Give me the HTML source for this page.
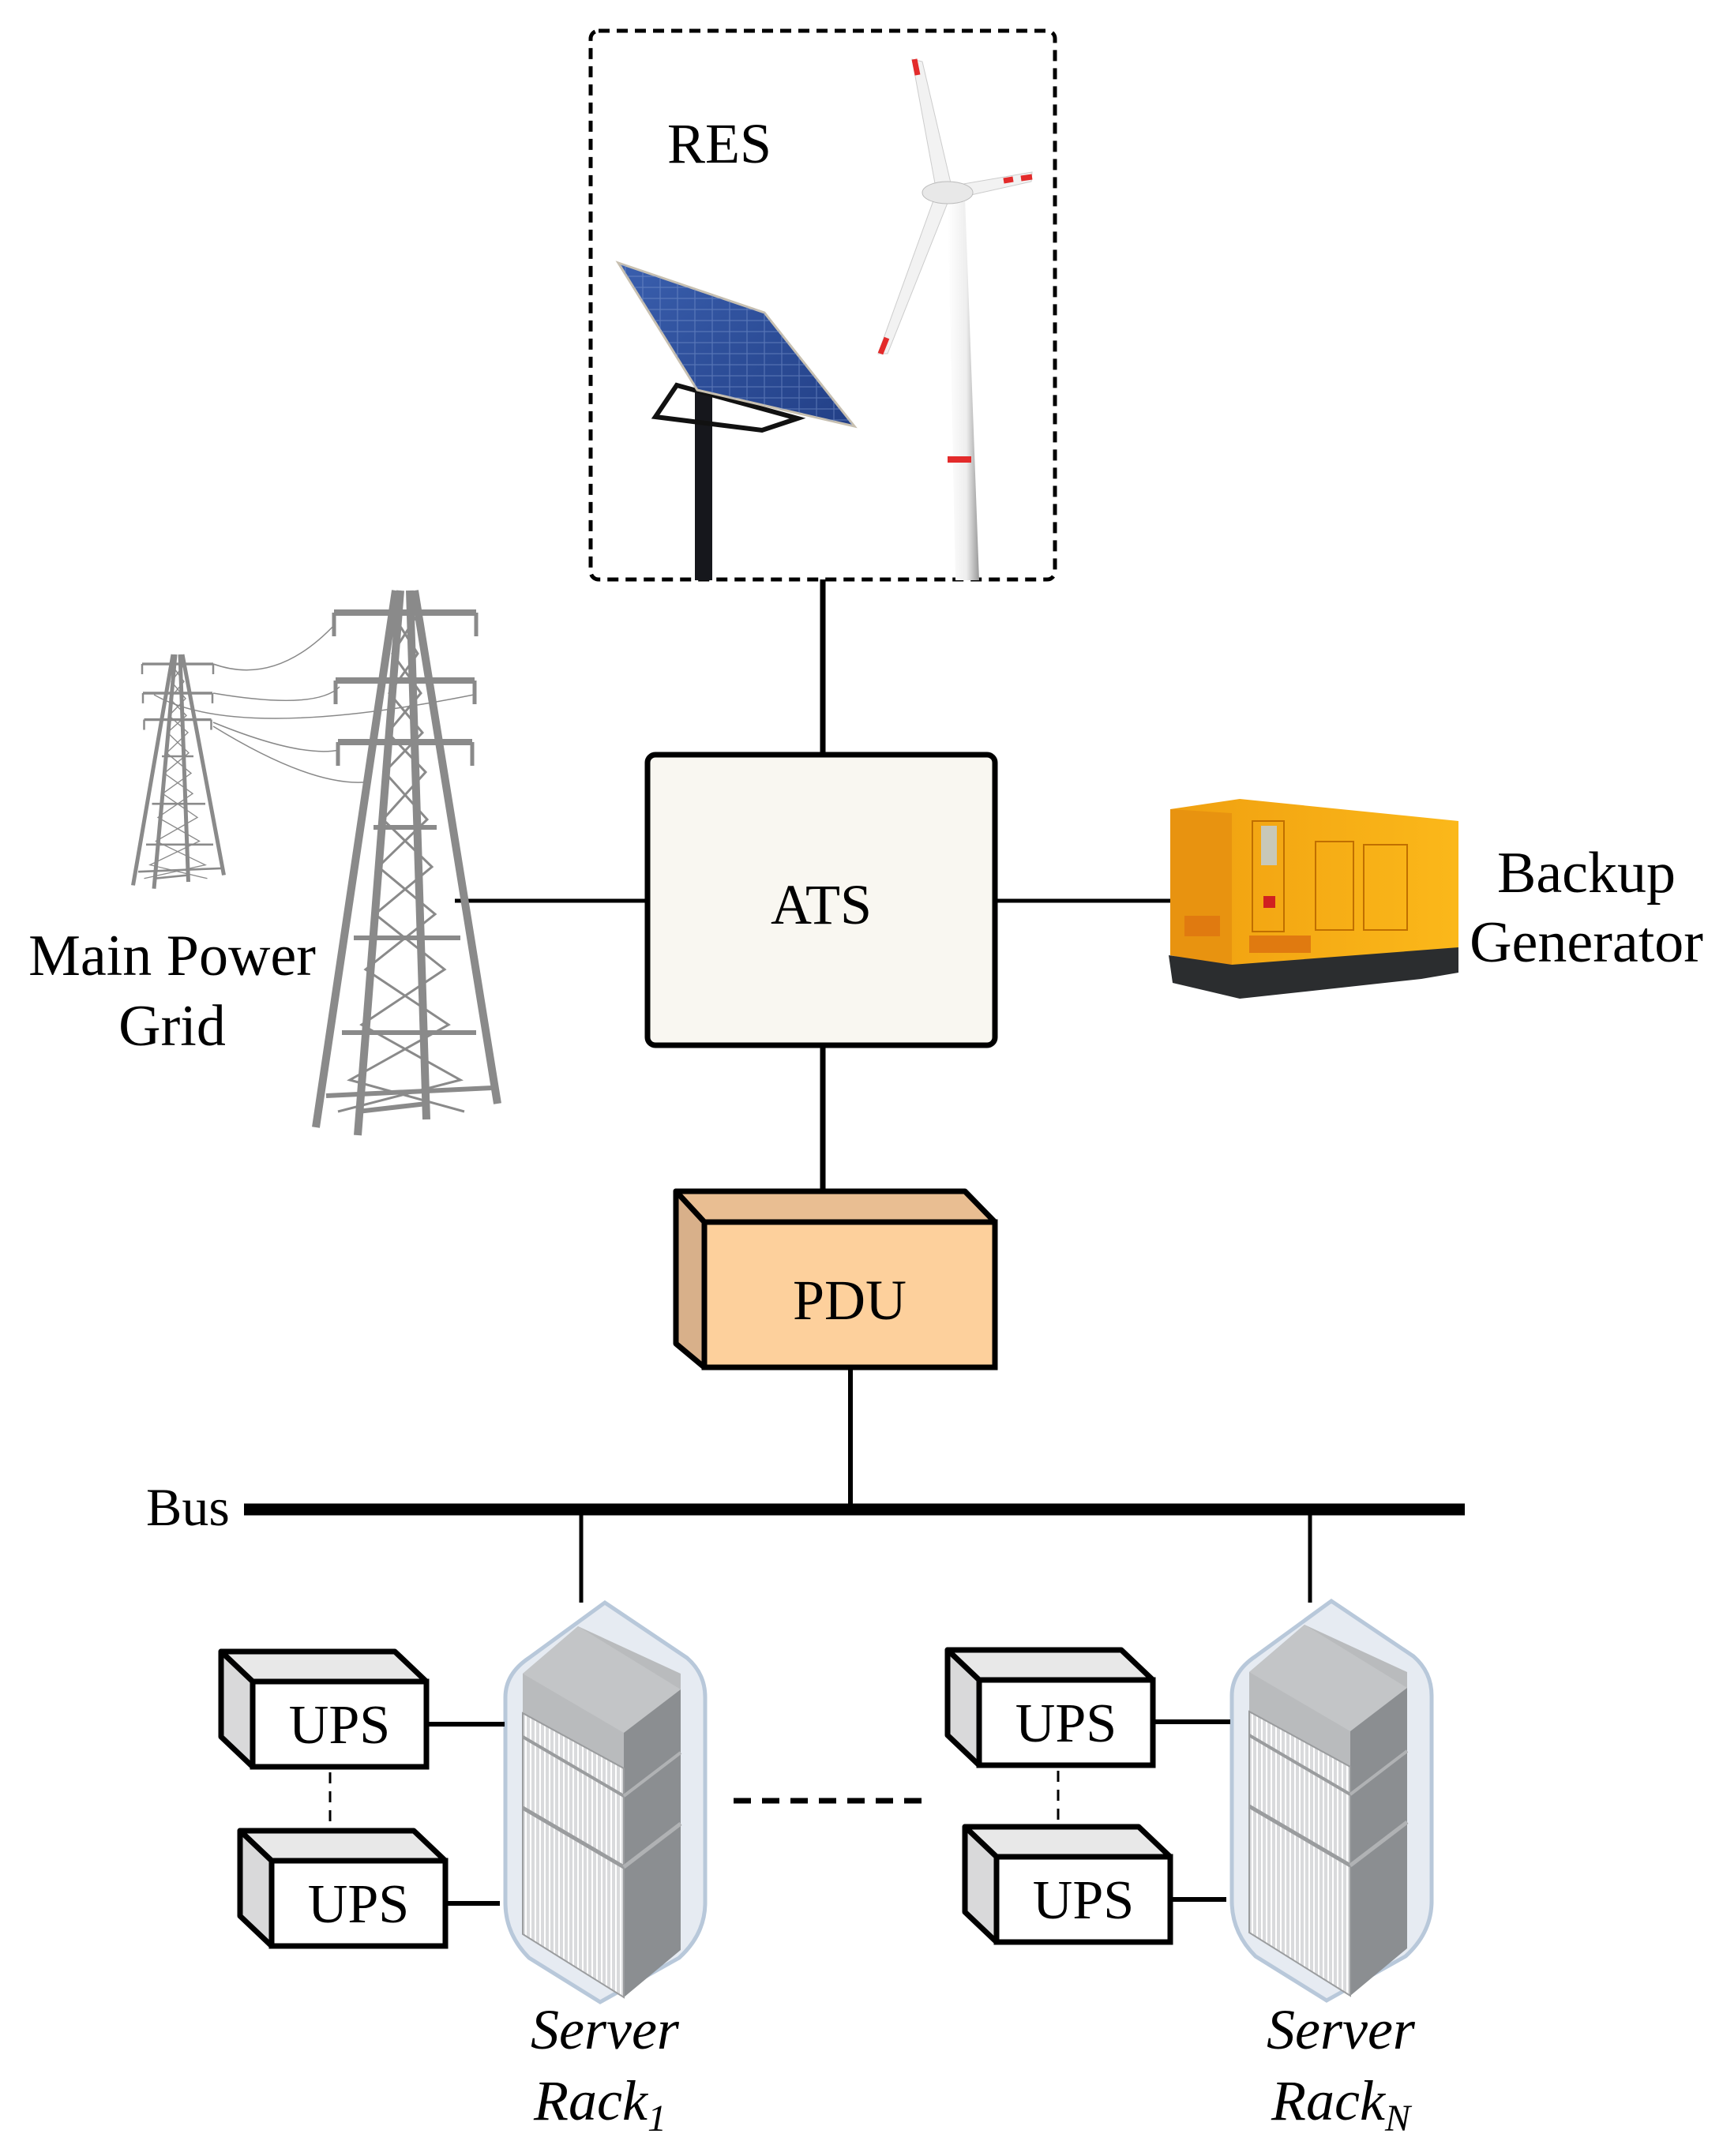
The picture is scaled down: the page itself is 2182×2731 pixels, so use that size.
<!DOCTYPE html>
<html><head><meta charset="utf-8"><style>
html,body{margin:0;padding:0;background:#fff}
svg{display:block}
text{font-family:"Liberation Serif",serif;fill:#000}
</style></head><body>
<svg width="2182" height="2731" viewBox="0 0 2182 2731" xmlns="http://www.w3.org/2000/svg">
<defs>
<linearGradient id="panel" x1="0" y1="0" x2="1" y2="1"><stop offset="0" stop-color="#3a5fae"/><stop offset="1" stop-color="#223f86"/></linearGradient>
<linearGradient id="tw" x1="0" y1="0" x2="1" y2="0"><stop offset="0" stop-color="#fff"/><stop offset="0.6" stop-color="#eee"/><stop offset="1" stop-color="#999"/></linearGradient>
<linearGradient id="gen" x1="0" y1="0" x2="1" y2="0"><stop offset="0" stop-color="#f0a010"/><stop offset="1" stop-color="#fbb81a"/></linearGradient>
<pattern id="grid" width="22" height="14" patternUnits="userSpaceOnUse"><rect width="22" height="14" fill="none" stroke="#7f9ad0" stroke-width="1.2"/></pattern>
<pattern id="vent" width="6" height="40" patternUnits="userSpaceOnUse"><rect width="6" height="40" fill="#d9dadc"/><line x1="2" y1="0" x2="2" y2="40" stroke="#fff" stroke-width="2"/></pattern>
<g id="rack">
  <path d="M0,120 L0,380 Q0,420 30,450 L120,506 L220,450 Q253,420 253,380 L253,120 Q253,90 230,70 L126,0 L30,70 Q0,90 0,120 Z" fill="#e6ebf2" stroke="#b8c8da" stroke-width="5"/>
  <polygon points="22,90 92,30 222,90 222,150 150,210 22,140" fill="#b9bbbd"/>
  <polygon points="22,90 92,30 222,110 150,165" fill="#c3c5c7"/>
  <polygon points="150,165 222,110 222,440 150,500" fill="#8b8e91"/>
  <polygon points="22,140 150,210 150,500 22,420" fill="url(#vent)" stroke="#9a9c9e" stroke-width="2"/>
  <line x1="22" y1="170" x2="150" y2="245" stroke="#9a9c9e" stroke-width="4"/>
  <line x1="22" y1="260" x2="150" y2="335" stroke="#9a9c9e" stroke-width="5"/>
  <line x1="150" y1="245" x2="222" y2="190" stroke="#b0b2b4" stroke-width="4"/>
  <line x1="150" y1="335" x2="222" y2="280" stroke="#b0b2b4" stroke-width="5"/>
</g>
<g id="ups">
  <polygon points="-40,-38 180,-38 220,0 0,0" fill="#e8e8e8" stroke="#000" stroke-width="7" stroke-linejoin="round"/>
  <polygon points="-40,-38 0,0 0,108 -40,70" fill="#d9d9da" stroke="#000" stroke-width="7" stroke-linejoin="round"/>
  <rect x="0" y="0" width="220" height="108" fill="#fff" stroke="#000" stroke-width="7"/>
  <text x="110" y="78" font-size="70" text-anchor="middle">UPS</text>
</g>
<g id="tower" stroke="#8a8a8a" fill="none">
  <path d="M-12,0 L-113,680 M12,0 L117,650 M-6,0 L-60,690 M6,0 L27,670" stroke-width="10"/>
  <path d="M-90,28 L90,28 M-88,114 L88,114 M-85,192 L85,192" stroke-width="8"/>
  <path d="M-90,28 v30 M90,28 v30 M-88,114 v30 M88,114 v30 M-85,192 v30 M85,192 v30" stroke-width="5"/>
  <path d="M-16,30 L16,80 L-20,130 L22,180 L-26,230 L28,290 L-34,350 L38,410 L-50,480 L55,550 L-70,620 L75,660 M16,30 L-16,80 L20,130 L-22,180 L26,230 L-28,290 L34,350 L-38,410 L50,480 L-55,550 L70,620 L-85,660" stroke-width="3"/>
  <path d="M-40,300 L40,300 M-65,440 L70,440 M-80,560 L90,560 M-100,640 L110,630 M-60,660 L27,650" stroke-width="6"/>
</g>
</defs>

<!-- RES box -->
<rect x="748" y="39" width="588" height="695" rx="10" fill="#fff" stroke="#000" stroke-width="5" stroke-dasharray="14,9"/>
<text x="845" y="206" font-size="72">RES</text>
<!-- solar -->
<rect x="880" y="495" width="22" height="240" fill="#16171c"/>
<path d="M830,528 L857,488 L1010,530 L965,545 Z" fill="none" stroke="#111" stroke-width="6"/>
<polygon points="783,333 968,396 1082,540 883,494" fill="url(#panel)" stroke="#c8c0b0" stroke-width="3"/>
<polygon points="783,333 968,396 1082,540 883,494" fill="url(#grid)" opacity="0.5"/>
<!-- wind turbine -->
<polygon points="1200,250 1222,250 1240,735 1210,735" fill="url(#tw)"/>
<rect x="1200" y="578" width="30" height="8" fill="#e32b2b"/>
<path d="M1186,243 L1155,75 L1168,78 L1205,236 Z" fill="#f2f2f2" stroke="#ccc" stroke-width="1"/>
<path d="M1191,238 L1307,218 L1306,230 L1198,254 Z" fill="#f2f2f2" stroke="#ccc" stroke-width="1"/>
<path d="M1186,243 L1112,448 L1124,448 L1202,252 Z" fill="#f2f2f2" stroke="#ccc" stroke-width="1"/>
<ellipse cx="1200" cy="244" rx="32" ry="14" fill="#e8e8e8" stroke="#bbb"/>
<path d="M1158,75 l4,20 M1307,224 l-14,2 M1283,227 l-12,2 M1115,448 l8,-20" stroke="#e32b2b" stroke-width="7"/>

<!-- connectors -->
<line x1="1042" y1="734" x2="1042" y2="956" stroke="#000" stroke-width="7"/>
<line x1="576" y1="1141" x2="819" y2="1141" stroke="#000" stroke-width="5"/>
<line x1="1260" y1="1141" x2="1484" y2="1141" stroke="#000" stroke-width="5"/>
<line x1="1042" y1="1323" x2="1042" y2="1510" stroke="#000" stroke-width="7"/>

<!-- ATS -->
<rect x="820" y="956" width="440" height="368" rx="10" fill="#f9f7f1" stroke="#000" stroke-width="7"/>
<text x="1040" y="1170" font-size="72" text-anchor="middle">ATS</text>

<!-- PDU -->
<polygon points="856,1509 1222,1509 1260,1548 892,1548" fill="#e9be92" stroke="#000" stroke-width="7" stroke-linejoin="round"/>
<polygon points="856,1509 892,1548 892,1732 856,1702" fill="#d8b08a" stroke="#000" stroke-width="7" stroke-linejoin="round"/>
<rect x="892" y="1548" width="368" height="184" fill="#fdd09c" stroke="#000" stroke-width="7"/>
<text x="1076" y="1671" font-size="72" text-anchor="middle">PDU</text>
<line x1="1077" y1="1732" x2="1077" y2="1912" stroke="#000" stroke-width="6"/>

<!-- Bus -->
<text x="185" y="1932" font-size="68">Bus</text>
<line x1="309" y1="1912" x2="1855" y2="1912" stroke="#000" stroke-width="15"/>
<line x1="736" y1="1912" x2="736" y2="2030" stroke="#000" stroke-width="5"/>
<line x1="1659" y1="1912" x2="1659" y2="2030" stroke="#000" stroke-width="5"/>

<!-- racks -->
<use href="#rack" x="640" y="2030"/>
<use href="#rack" x="1560" y="2028"/>

<!-- UPS -->
<use href="#ups" x="320" y="2130"/>
<use href="#ups" x="344" y="2357"/>
<use href="#ups" x="1240" y="2128"/>
<use href="#ups" x="1262" y="2352"/>
<line x1="540" y1="2184" x2="639" y2="2184" stroke="#000" stroke-width="6"/>
<line x1="564" y1="2411" x2="633" y2="2411" stroke="#000" stroke-width="6"/>
<line x1="1460" y1="2181" x2="1558" y2="2181" stroke="#000" stroke-width="6"/>
<line x1="1482" y1="2406" x2="1553" y2="2406" stroke="#000" stroke-width="6"/>
<line x1="418" y1="2245" x2="418" y2="2316" stroke="#000" stroke-width="3" stroke-dasharray="14,10"/>
<line x1="1340" y1="2243" x2="1340" y2="2310" stroke="#000" stroke-width="3" stroke-dasharray="14,10"/>
<line x1="929" y1="2281" x2="1175" y2="2281" stroke="#000" stroke-width="7" stroke-dasharray="22,14"/>

<text x="766" y="2595" font-size="72" font-style="italic" text-anchor="middle">Server</text>
<text x="760" y="2685" font-size="72" font-style="italic" text-anchor="middle">Rack<tspan font-size="48" dy="14">1</tspan></text>
<text x="1698" y="2595" font-size="72" font-style="italic" text-anchor="middle">Server</text>
<text x="1698" y="2685" font-size="72" font-style="italic" text-anchor="middle">Rack<tspan font-size="48" dy="14">N</tspan></text>

<!-- power grid -->
<g transform="translate(225,829) scale(0.5,0.43)"><use href="#tower"/></g>
<path d="M270,841 Q350,870 425,790 M270,878 Q400,900 430,870 M270,915 Q380,960 430,950 M270,920 Q400,1000 470,990 M195,880 Q300,940 600,880" stroke="#888" stroke-width="1.5" fill="none"/>
<g transform="translate(513,748)"><use href="#tower"/></g>
<text x="218" y="1235" font-size="74" text-anchor="middle">Main Power</text>
<text x="218" y="1324" font-size="74" text-anchor="middle">Grid</text>

<!-- generator -->
<polygon points="1482,1025 1570,1012 1847,1040 1847,1222 1560,1225 1482,1210" fill="url(#gen)"/>
<polygon points="1482,1025 1560,1030 1560,1225 1482,1210" fill="#e89310"/>
<polygon points="1480,1210 1560,1222 1847,1200 1847,1232 1800,1240 1570,1265 1485,1245" fill="#2b2d2f"/>
<rect x="1586" y="1040" width="40" height="140" fill="none" stroke="#c06f00" stroke-width="2"/>
<rect x="1597" y="1046" width="20" height="50" fill="#c8c8b8"/>
<rect x="1600" y="1135" width="15" height="15" fill="#d02020"/>
<rect x="1666" y="1066" width="48" height="112" fill="none" stroke="#c06f00" stroke-width="2"/>
<rect x="1727" y="1070" width="55" height="108" fill="none" stroke="#c06f00" stroke-width="2"/>
<rect x="1500" y="1160" width="45" height="26" fill="#e07a10"/>
<rect x="1582" y="1185" width="78" height="22" fill="#e07a10"/>
<text x="2009" y="1130" font-size="74" text-anchor="middle">Backup</text>
<text x="2009" y="1218" font-size="74" text-anchor="middle">Generator</text>
</svg>
</body></html>
